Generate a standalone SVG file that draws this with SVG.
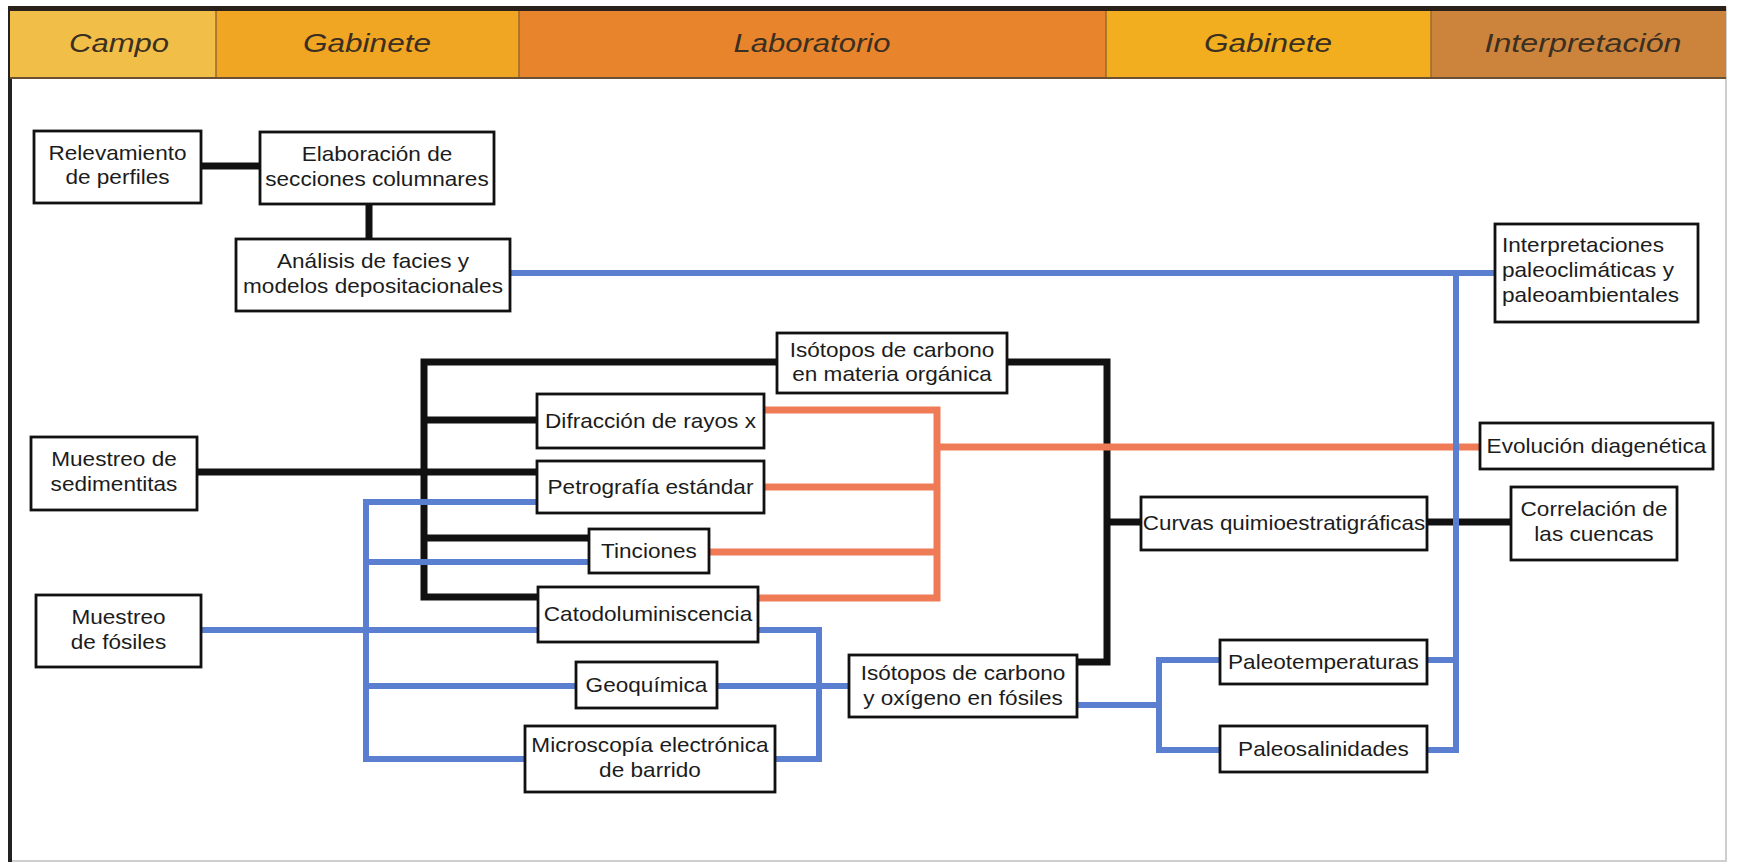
<svg xmlns="http://www.w3.org/2000/svg" width="1738" height="864" viewBox="0 0 1738 864">
<style>
.hdr{font-family:"Liberation Sans",Arial,sans-serif;font-style:italic;font-size:25px;fill:#3b2f22;text-anchor:middle}
.box{fill:#fff;stroke:#111;stroke-width:2.8}
.t{font-family:"Liberation Sans",Arial,sans-serif;font-size:20px;fill:#1c1c1c;text-anchor:middle}
.tl{font-family:"Liberation Sans",Arial,sans-serif;font-size:20px;fill:#1c1c1c}
.k{stroke:#111;stroke-width:7;fill:none}
.o{stroke:#EF7A56;stroke-width:7;fill:none}
.b{stroke:#5A7ED0;stroke-width:6;fill:none}
</style>
<rect x="0" y="0" width="1738" height="864" fill="#fff"/>
<!-- frame -->
<rect x="10" y="8" width="1716" height="853" fill="none" stroke="#cfcfcf" stroke-width="2"/>
<line x1="10" y1="6" x2="10" y2="862" stroke="#222" stroke-width="4"/>
<!-- header -->
<g id="header">
<rect x="10" y="6" width="1716" height="5" fill="#2a211a"/>
<rect x="10" y="11" width="206" height="67" fill="#F1BF48"/>
<rect x="216" y="11" width="303" height="67" fill="#F0A622"/>
<rect x="519" y="11" width="587" height="67" fill="#E8852C"/>
<rect x="1106" y="11" width="325" height="67" fill="#F2AE1E"/>
<rect x="1431" y="11" width="295" height="67" fill="#CC843C"/>
<line x1="216" y1="11" x2="216" y2="78" stroke="#9a6a30" stroke-width="1.5"/>
<line x1="519" y1="11" x2="519" y2="78" stroke="#9a6a30" stroke-width="1.5"/>
<line x1="1106" y1="11" x2="1106" y2="78" stroke="#9a6a30" stroke-width="1.5"/>
<line x1="1431" y1="11" x2="1431" y2="78" stroke="#9a6a30" stroke-width="1.5"/>
<line x1="10" y1="78" x2="1726" y2="78" stroke="#6b5034" stroke-width="2"/>
<text class="hdr" x="119" y="52" textLength="100" lengthAdjust="spacingAndGlyphs">Campo</text>
<text class="hdr" x="367" y="52" textLength="128" lengthAdjust="spacingAndGlyphs">Gabinete</text>
<text class="hdr" x="812" y="52" textLength="157" lengthAdjust="spacingAndGlyphs">Laboratorio</text>
<text class="hdr" x="1268" y="52" textLength="128" lengthAdjust="spacingAndGlyphs">Gabinete</text>
<text class="hdr" x="1583" y="52" textLength="197" lengthAdjust="spacingAndGlyphs">Interpretación</text>
</g>
<!-- connectors -->
<g id="connectors">
<!-- black -->
<line class="k" x1="201" y1="166" x2="260" y2="166"/>
<line class="k" x1="369" y1="204" x2="369" y2="239"/>
<line class="k" x1="197" y1="472" x2="537" y2="472"/>
<polyline class="k" points="777,362 424,362 424,597 538,597"/>
<line class="k" x1="424" y1="420" x2="537" y2="420"/>
<line class="k" x1="424" y1="538" x2="589" y2="538"/>
<polyline class="k" points="1007,362 1107,362 1107,662 1077,662"/>
<line class="k" x1="1107" y1="522" x2="1141" y2="522"/>
<line class="k" x1="1427" y1="522" x2="1511" y2="522"/>
<!-- orange -->
<polyline class="o" points="764,410 937,410 937,598 758,598"/>
<line class="o" x1="764" y1="487" x2="937" y2="487"/>
<line class="o" x1="709" y1="552" x2="937" y2="552"/>
<line class="o" x1="937" y1="447" x2="1480" y2="447"/>
<!-- blue -->
<line class="b" x1="510" y1="273" x2="1495" y2="273"/>
<polyline class="b" points="1456,273 1456,750 1427,750"/>
<line class="b" x1="1427" y1="660" x2="1456" y2="660"/>
<polyline class="b" points="1220,660 1159,660 1159,750 1220,750"/>
<line class="b" x1="1077" y1="705" x2="1159" y2="705"/>
<polyline class="b" points="537,502 366,502 366,759 525,759"/>
<line class="b" x1="366" y1="562" x2="589" y2="562"/>
<line class="b" x1="201" y1="630" x2="538" y2="630"/>
<line class="b" x1="366" y1="686" x2="576" y2="686"/>
<polyline class="b" points="758,630 819,630 819,759 775,759"/>
<line class="b" x1="717" y1="686" x2="849" y2="686"/>
</g>
<!-- nodes -->
<g id="relevamiento"><rect class="box" x="34" y="131" width="167" height="72"/><g transform="matrix(1.13 0 0 1 -15.275 0)"><text class="t" x="117.5" y="160">Relevamiento</text><text class="t" x="117.5" y="184">de perfiles</text></g></g>
<g id="elaboracion"><rect class="box" x="260" y="132" width="234" height="72"/><g transform="matrix(1.13 0 0 1 -49.01 0)"><text class="t" x="377" y="161">Elaboración de</text><text class="t" x="377" y="186">secciones columnares</text></g></g>
<g id="analisis"><rect class="box" x="236" y="239" width="274" height="72"/><g transform="matrix(1.13 0 0 1 -48.49 0)"><text class="t" x="373" y="268">Análisis de facies y</text><text class="t" x="373" y="293">modelos depositacionales</text></g></g>
<g id="interpretaciones"><rect class="box" x="1495" y="224" width="203" height="98"/><g transform="matrix(1.13 0 0 1 -195.26 0)"><text class="tl" x="1502" y="252">Interpretaciones</text><text class="tl" x="1502" y="277">paleoclimáticas y</text><text class="tl" x="1502" y="302">paleoambientales</text></g></g>
<g id="isotopos-mo"><rect class="box" x="777" y="333" width="230" height="60"/><g transform="matrix(1.13 0 0 1 -115.96 0)"><text class="t" x="892" y="357">Isótopos de carbono</text><text class="t" x="892" y="381">en materia orgánica</text></g></g>
<g id="difraccion"><rect class="box" x="537" y="394" width="227" height="54"/><g transform="matrix(1.13 0 0 1 -84.565 0)"><text class="t" x="650.5" y="428">Difracción de rayos x</text></g></g>
<g id="muestreo-sed"><rect class="box" x="31" y="437" width="166" height="73"/><g transform="matrix(1.13 0 0 1 -14.82 0)"><text class="t" x="114" y="466">Muestreo de</text><text class="t" x="114" y="491">sedimentitas</text></g></g>
<g id="evolucion"><rect class="box" x="1480" y="423" width="233" height="46"/><g transform="matrix(1.13 0 0 1 -207.545 0)"><text class="t" x="1596.5" y="453">Evolución diagenética</text></g></g>
<g id="petrografia"><rect class="box" x="537" y="461" width="227" height="52"/><g transform="matrix(1.13 0 0 1 -84.565 0)"><text class="t" x="650.5" y="494">Petrografía estándar</text></g></g>
<g id="curvas"><rect class="box" x="1141" y="497" width="286" height="53"/><g transform="matrix(1.12 0 0 1 -154.08 0)"><text class="t" x="1284" y="530">Curvas quimioestratigráficas</text></g></g>
<g id="correlacion"><rect class="box" x="1511" y="487" width="166" height="73"/><g transform="matrix(1.13 0 0 1 -207.22 0)"><text class="t" x="1594" y="516">Correlación de</text><text class="t" x="1594" y="541">las cuencas</text></g></g>
<g id="tinciones"><rect class="box" x="589" y="529" width="120" height="44"/><g transform="matrix(1.13 0 0 1 -84.37 0)"><text class="t" x="649" y="558">Tinciones</text></g></g>
<g id="catodoluminiscencia"><rect class="box" x="538" y="587" width="220" height="55"/><g transform="matrix(1.13 0 0 1 -84.24 0)"><text class="t" x="648" y="621">Catodoluminiscencia</text></g></g>
<g id="muestreo-fos"><rect class="box" x="36" y="595" width="165" height="72"/><g transform="matrix(1.13 0 0 1 -15.405 0)"><text class="t" x="118.5" y="624">Muestreo</text><text class="t" x="118.5" y="649">de fósiles</text></g></g>
<g id="geoquimica"><rect class="box" x="576" y="662" width="141" height="46"/><g transform="matrix(1.13 0 0 1 -84.045 0)"><text class="t" x="646.5" y="692">Geoquímica</text></g></g>
<g id="isotopos-fos"><rect class="box" x="849" y="655" width="228" height="62"/><g transform="matrix(1.13 0 0 1 -125.19 0)"><text class="t" x="963" y="680">Isótopos de carbono</text><text class="t" x="963" y="705">y oxígeno en fósiles</text></g></g>
<g id="paleotemperaturas"><rect class="box" x="1220" y="640" width="207" height="44"/><g transform="matrix(1.13 0 0 1 -172.055 0)"><text class="t" x="1323.5" y="669">Paleotemperaturas</text></g></g>
<g id="paleosalinidades"><rect class="box" x="1220" y="726" width="207" height="46"/><g transform="matrix(1.13 0 0 1 -172.055 0)"><text class="t" x="1323.5" y="756">Paleosalinidades</text></g></g>
<g id="microscopia"><rect class="box" x="525" y="726" width="250" height="66"/><g transform="matrix(1.13 0 0 1 -84.5 0)"><text class="t" x="650" y="752">Microscopía electrónica</text><text class="t" x="650" y="777">de barrido</text></g></g>
</svg>
